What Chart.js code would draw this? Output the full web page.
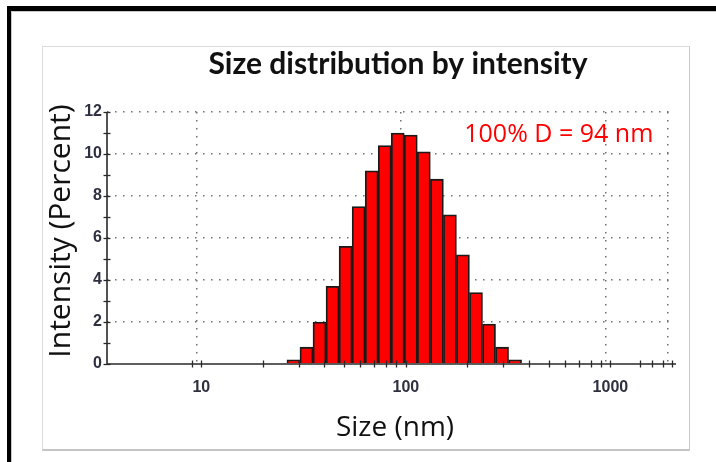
<!DOCTYPE html>
<html>
<head>
<meta charset="utf-8">
<script src="https://cdn.jsdelivr.net/npm/chart.js@4"></script>
<style>
  html, body { margin: 0; padding: 0; background: #fff; }
  #wrap { position: relative; width: 716px; height: 462px; overflow: hidden; }
  #frame { position: absolute; left: 7px; top: 6px; width: 720px; height: 470px;
           border-left: 4px solid #000; border-top: 5px solid #000; }
  #frame2 { position: absolute; left: 11px; top: 11px; width: 720px; height: 470px;
           border-left: 1px solid #c8c8c8; border-top: 1px solid #c8c8c8; }
  #panel { position: absolute; left: 42px; top: 46px; width: 646px; height: 402px;
           border: 1px solid #dcdcdc; border-right-color: #c8c8c8; border-bottom: 2px solid #c4c4c4; }
  canvas { position: absolute; left: 0; top: 0; }
</style>
</head>
<body>
<div id="wrap">
  <div id="frame"></div>
  <div id="frame2"></div>
  <div id="panel"></div>
  <canvas id="c" width="716" height="462"></canvas>
</div>
<script>
// ---- data ----
const sizesNm = [28.21, 32.67, 37.84, 43.82, 50.75, 58.77, 68.06, 78.82, 91.28,
                 105.7, 122.4, 141.8, 164.2, 190.1, 220.2, 255.0, 295.3, 342.0];
const intensityPct = [0.2, 0.8, 2.0, 3.7, 5.6, 7.5, 9.2, 10.4, 11.0,
                      10.9, 10.1, 8.8, 7.1, 5.2, 3.4, 1.9, 0.8, 0.2];
const xTickValues = [9, 10, 20, 30, 40, 50, 60, 70, 80, 90, 100,
                     200, 300, 400, 500, 600, 700, 800, 900, 1000,
                     1400, 1600, 1800, 2000];
const xLabelValues = [10, 100, 1000];
const xGridValues = [10, 100, 1000, 2000];
const yTickValues = [0, 1, 2, 3, 4, 5, 6, 7, 8, 9, 10, 11, 12];
const yLabelValues = [0, 2, 4, 6, 8, 10, 12];
const titleText = 'Size distribution by intensity';
const xTitle = 'Size (nm)';
const yTitle = 'Intensity (Percent)';
const annotationText = '100% D = 94 nm';

const X_MIN = 3.46, X_MAX = 2000;
const points = sizesNm.map((s, i) => ({ x: s, y: intensityPct[i] }));

const decorPlugin = {
  id: 'decor',
  afterDraw(chart) {
    const ctx = chart.ctx;
    const xs = chart.scales.x, ys = chart.scales.y;
    const ca = chart.chartArea;
    ctx.save();
    ctx.strokeStyle = '#2a2a2a';
    ctx.lineWidth = 1.6;
    // axis lines
    ctx.beginPath();
    ctx.moveTo(ca.left, ca.top);
    ctx.lineTo(ca.left, ca.bottom);
    ctx.lineTo(ca.right + 4, ca.bottom);
    ctx.stroke();
    ctx.lineWidth = 1.3;
    // x ticks crossing axis
    xTickValues.forEach(v => {
      const px = Math.round(xs.getPixelForValue(v)) + 0.5;
      ctx.beginPath();
      ctx.moveTo(px, ca.bottom - 3.5);
      ctx.lineTo(px, ca.bottom + 3.5);
      ctx.stroke();
    });
    // y ticks crossing axis
    yTickValues.forEach(v => {
      const py = Math.round(ys.getPixelForValue(v)) + 0.5;
      ctx.beginPath();
      ctx.moveTo(ca.left - 3.5, py);
      ctx.lineTo(ca.left + 3.5, py);
      ctx.stroke();
    });
    // title
    ctx.fillStyle = '#111';
    ctx.textAlign = 'center';
    ctx.textBaseline = 'middle';
    ctx.font = 'bold 30px Lato, sans-serif';
    ctx.fillText(titleText, 398, 64);
    // x axis title
    ctx.font = '28px "Open Sans", sans-serif';
    ctx.fillText(xTitle, 395, 428);
    // y axis title
    ctx.font = '30px "Open Sans", sans-serif';
    ctx.save();
    ctx.translate(61, 231);
    ctx.rotate(-Math.PI / 2);
    ctx.fillText(yTitle, 0, 0);
    ctx.restore();
    // annotation
    ctx.fillStyle = '#ff0000';
    ctx.font = '25px "Open Sans", sans-serif';
    ctx.textAlign = 'left';
    ctx.fillText(annotationText, xs.getPixelForValue(193), ys.getPixelForValue(10.9));
    ctx.restore();
  }
};

const tickFont = { family: '"Liberation Sans", Arial, sans-serif', size: 16, weight: 'bold' };

new Chart(document.getElementById('c'), {
  type: 'bar',
  data: {
    datasets: [{
      data: points,
      xAxisID: 'xBars',
      backgroundColor: '#ff0000',
      borderColor: '#1a1a1a',
      borderWidth: 1.8,
      categoryPercentage: 1.0,
      barPercentage: 1.0
    }]
  },
  plugins: [decorPlugin],
  options: {
    responsive: false,
    animation: false,
    events: [],
    layout: { padding: { left: 43, right: 44, top: 112, bottom: 18 } },
    plugins: {
      legend: { display: false },
      tooltip: { enabled: false },
      title: { display: false }
    },
    scales: {
      xBars: {
        type: 'logarithmic',
        display: false,
        min: X_MIN,
        max: X_MAX,
        afterBuildTicks: (scale) => {
          scale.ticks = [{ value: X_MIN }, { value: X_MAX }];
        }
      },
      x: {
        type: 'logarithmic',
        position: 'bottom',
        min: X_MIN,
        max: X_MAX,
        afterBuildTicks: (scale) => {
          scale.ticks = xTickValues.map(v => ({ value: v }));
        },
        ticks: {
          autoSkip: false,
          maxRotation: 0,
          padding: 14,
          color: '#2e3040',
          font: tickFont,
          callback: (v) => xLabelValues.includes(v) ? String(v) : ''
        },
        grid: {
          drawTicks: false,
          color: (ctx) => (ctx.tick && xGridValues.includes(ctx.tick.value)) ? '#707070' : 'rgba(0,0,0,0)',
          lineWidth: 1.5
        },
        border: { display: false, dash: [1.5, 6.5] },
        title: { display: false },
        afterFit: (s) => { s.height = 80; }
      },
      y: {
        type: 'linear',
        min: 0,
        max: 12,
        afterBuildTicks: (scale) => {
          scale.ticks = yTickValues.map(v => ({ value: v }));
        },
        ticks: {
          autoSkip: false,
          padding: 5,
          color: '#2e3040',
          font: tickFont,
          callback: (v) => yLabelValues.includes(v) ? String(v) : ''
        },
        grid: {
          drawTicks: false,
          color: (ctx) => (ctx.tick && ctx.tick.value > 0 && yLabelValues.includes(ctx.tick.value)) ? '#707070' : 'rgba(0,0,0,0)',
          lineWidth: 1.5
        },
        border: { display: false, dash: [1.5, 6.5] },
        title: { display: false },
        afterFit: (s) => { s.width = 64; }
      }
    }
  }
});
</script>
</body>
</html>
